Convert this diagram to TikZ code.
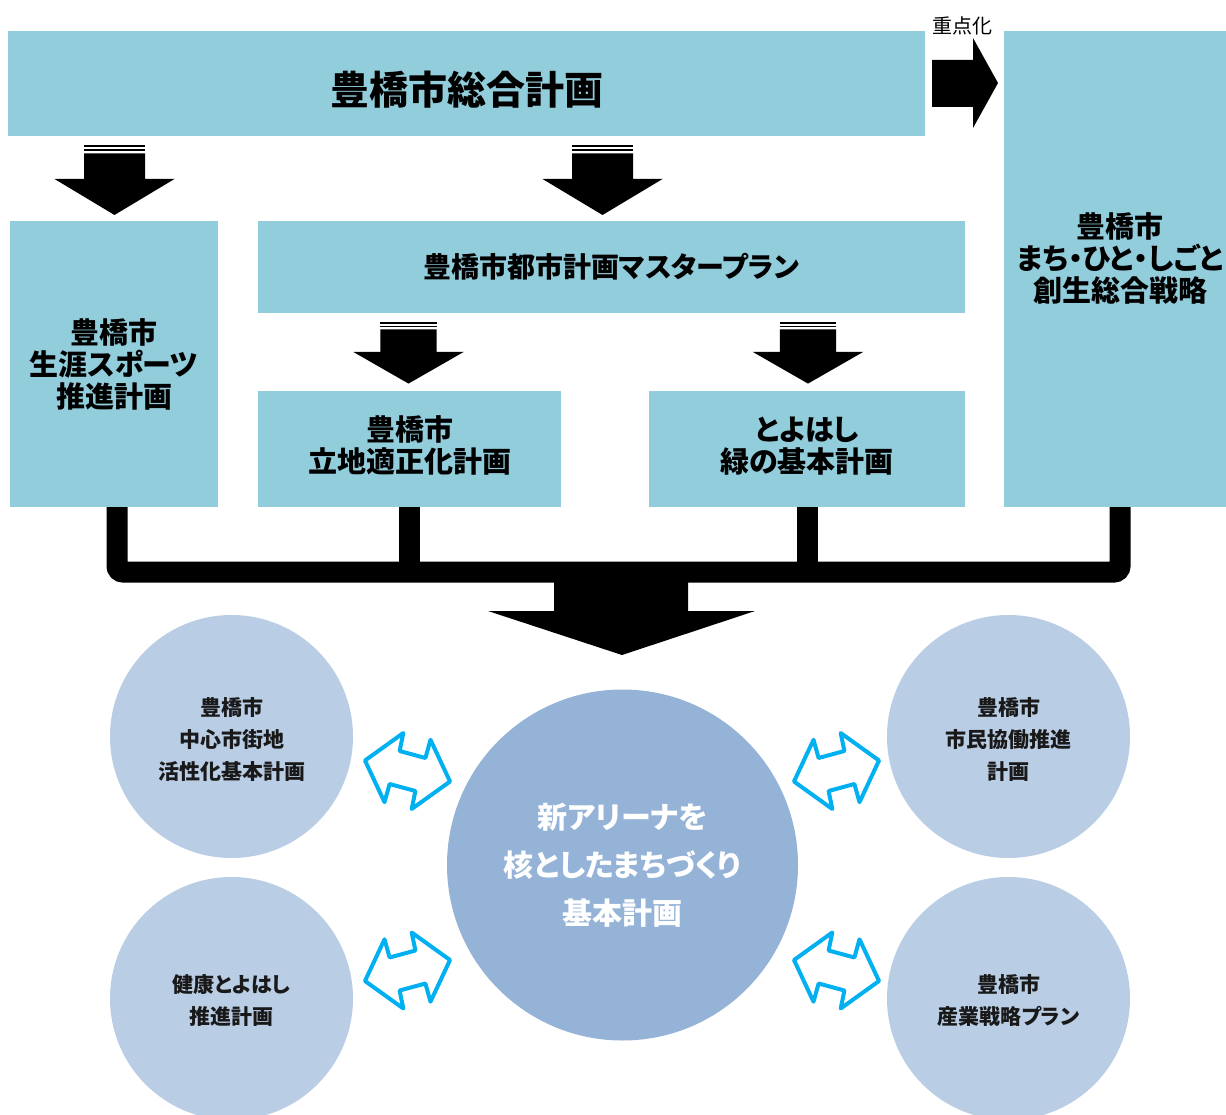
\documentclass[tikz,border=0pt]{standalone}
\usepackage{fontspec}
\setmainfont{Noto Sans CJK JP}[RawFeature=+palt]
\usepackage{tikz}
\usetikzlibrary{positioning}

\definecolor{planblue}{HTML}{92CDDC}
\definecolor{circlelight}{HTML}{B9CDE5}
\definecolor{circledark}{HTML}{95B3D7}
\definecolor{swapcyan}{HTML}{00B0F0}

\tikzset{
  stripedarrow/.pic={
    \fill (-30.5,0) rectangle (30.5,2);
    \fill (-30.5,4) rectangle (30.5,6);
    \fill (-30.5,8.5) -- (30.5,8.5) -- (30.5,34) -- (60,34) -- (0,70) -- (-60,34) -- (-30.5,34) -- cycle;
  },
  swaparrow/.pic={
    \draw [swap] (-42.5,-10.5) -- (-4.2,-38) -- (-7.9,-20) -- (17.9,-13) -- (23,-31.2) -- (42.5,10.5)
      -- (4.2,38) -- (7.9,20) -- (-17.9,13) -- (-23,31.2) -- cycle;
  }
}

\begin{document}
\begin{tikzpicture}[x=1pt,y=-1pt]
\tikzstyle{plan} = [rectangle, fill=planblue, text=black, align=center, inner sep=0pt, font=\bfseries\fontsize{29}{32}\selectfont]
\tikzstyle{subplan} = [circle, fill=circlelight, text=black!90, align=center, inner sep=0pt, minimum size=243pt, font=\bfseries\fontsize{21}{32}\selectfont]
\tikzstyle{core} = [circle, fill=circledark, text=white, align=center, inner sep=0pt, minimum size=351pt, font=\bfseries\fontsize{30}{48}\selectfont]
\tikzstyle{bus} = [line width=21pt, rounded corners=6pt]
\tikzstyle{swap} = [draw=swapcyan, line width=4pt, line join=round]

\useasboundingbox (0,0) rectangle (1226,1115);
\clip (0,0) rectangle (1226,1115);

\node (sogo) [plan, minimum width=917pt, minimum height=105pt, font=\bfseries\fontsize{39}{44}\selectfont] at (466.5,83.5) {\rule{0pt}{45pt}豊橋市総合計画};
\node (senryaku) [plan, minimum width=232pt, minimum height=476pt] at (1120,269) {豊橋市\\まち・ひと・しごと\\創生総合戦略\rule[-23pt]{0pt}{23pt}};
\node (sports) [plan, minimum width=208pt, minimum height=286pt] at (114,364) {豊橋市\\生涯スポーツ\\推進計画};
\node (master) [plan, minimum width=707pt, minimum height=92pt, font=\bfseries\fontsize{28}{32}\selectfont] at (611.5,267) {豊橋市都市計画マスタープラン};
\node (ritchi) [plan, minimum width=303pt, minimum height=116pt] at (409.5,449) {豊橋市\\立地適正化計画\rule[-9pt]{0pt}{9pt}};
\node (midori) [plan, minimum width=316pt, minimum height=116pt] at (807,449) {とよはし\\緑の基本計画\rule[-9pt]{0pt}{9pt}};
\node (juten) [font=\fontsize{20}{24}\selectfont] at (962,26) {重点化};

\fill (932,60) -- (973,60) -- (973,38) -- (998,83) -- (973,128) -- (973,107) -- (932,107) -- cycle;

\pic at (114.5,145) {stripedarrow};
\pic at (602.5,145) {stripedarrow};
\pic [xscale=0.92, yscale=0.88] at (408.5,322) {stripedarrow};
\pic [xscale=0.92, yscale=0.88] at (808,322) {stripedarrow};

\coordinate (hub) at (622,572);
\draw [bus] ([xshift=3pt]sports.south) |- (hub) -| (senryaku.south);
\draw [bus] (ritchi.south) -- (ritchi.south |- hub);
\draw [bus] (midori.south) -- (midori.south |- hub);
\begin{scope}[shift={(hub)}]
\fill (-68,0) -- (66,0) -- (66,39) -- (133,39) -- (0,83) -- (-134,39) -- (-68,39) -- cycle;
\end{scope}

\node (arena) [core] at (622.5,865) {新アリーナを\\核としたまちづくり\\基本計画};
\node (chushin) [subplan] at (231.5,736.5) {\rule{0pt}{24pt}豊橋市\\中心市街地\\活性化基本計画};
\node (kenko) [subplan] at (231.5,998.5) {\rule{0pt}{22pt}健康とよはし\\推進計画};
\node (kyodo) [subplan] at (1008.5,736.5) {\rule{0pt}{24pt}豊橋市\\市民協働推進\\計画};
\node (sangyo) [subplan] at (1008.5,998.5) {\rule{0pt}{22pt}豊橋市\\産業戦略プラン};

\pic at (407.5,771) {swaparrow};
\pic [yscale=-1] at (407.5,970.5) {swaparrow};
\pic [yscale=-1] at (836.5,771) {swaparrow};
\pic at (836.5,970.5) {swaparrow};

\end{tikzpicture}
\end{document}
